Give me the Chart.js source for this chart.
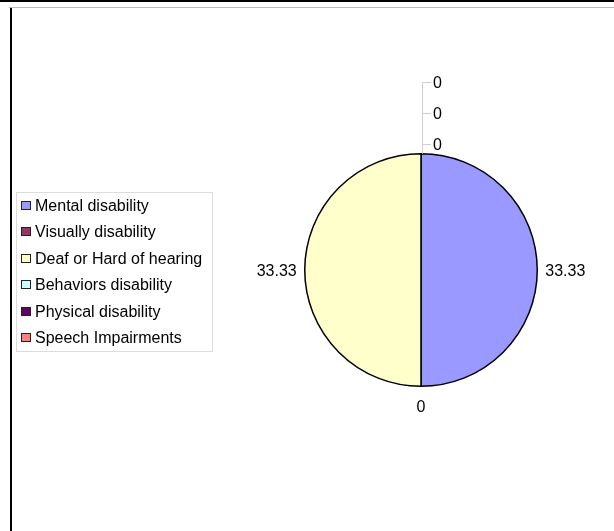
<!DOCTYPE html>
<html>
<head>
<meta charset="utf-8">
<script src="https://cdn.jsdelivr.net/npm/chart.js@4.4.1/dist/chart.umd.min.js"></script>
<style>
  html, body { margin: 0; padding: 0; background: #fff; }
  canvas { display: block; }
</style>
</head>
<body>
<canvas id="c" width="614" height="531"></canvas>
<script>
const categories = ["Mental disability", "Visually disability", "Deaf or Hard of hearing", "Behaviors disability", "Physical disability", "Speech Impairments"];
const values = [33.33, 0, 33.33, 0, 0, 0];
const valueLabels = ["33.33", "0", "33.33", "0", "0", "0"];
const colors = ["#9999FF", "#993366", "#FFFFCC", "#CCFFFF", "#660066", "#FF8080"];

const FONT = '16px "Liberation Sans", Arial, sans-serif';
const TY = 1.5;

const framePlugin = {
  id: 'frame',
  beforeDraw(chart) {
    const ctx = chart.ctx;
    ctx.save();
    ctx.fillStyle = '#fff';
    ctx.fillRect(0, 0, chart.width, chart.height);
    ctx.fillStyle = '#000';
    ctx.fillRect(0, 0, chart.width, 2);
    ctx.fillStyle = '#bdbdbd';
    ctx.fillRect(9, 7, chart.width - 9, 1);
    ctx.fillStyle = '#000';
    ctx.fillRect(10, 8, 2, chart.height - 8);
    ctx.restore();
  }
};

const labelPlugin = {
  id: 'labels',
  afterDraw(chart) {
    const ctx = chart.ctx;
    const meta = chart.getDatasetMeta(0);
    ctx.save();
    ctx.font = FONT;
    ctx.fillStyle = '#000';
    ctx.textBaseline = 'middle';
    const topStack = [];
    meta.data.forEach((arc, i) => {
      const p = arc.getProps(['x', 'y', 'startAngle', 'endAngle', 'outerRadius'], true);
      const mid = (p.startAngle + p.endAngle) / 2;
      const c = Math.cos(mid), s = Math.sin(mid);
      const r = p.outerRadius;
      const atTop = s < -0.999;
      if (atTop) { topStack.push({ i, p }); return; }
      const x = p.x + (r + 8) * c;
      const y = p.y + (r + 20) * s;
      ctx.textAlign = Math.abs(c) < 0.05 ? 'center' : (c > 0 ? 'left' : 'right');
      ctx.fillText(valueLabels[i], x, y + TY);
    });
    if (topStack.length) {
      const p = topStack[0].p;
      const top = p.y - p.outerRadius;
      const lx = p.x + 1;
      const ys = topStack.map((t, k) => Math.round(top - 10 - k * 31));
      ctx.strokeStyle = '#d0d0d0';
      ctx.lineWidth = 1;
      ctx.beginPath();
      ctx.moveTo(lx + 0.5, top);
      ctx.lineTo(lx + 0.5, ys[ys.length - 1] + 0.5);
      ys.forEach(y => {
        ctx.moveTo(lx + 0.5, y + 0.5);
        ctx.lineTo(lx + 9, y + 0.5);
      });
      ctx.stroke();
      ctx.textAlign = 'left';
      topStack.forEach((t, k) => ctx.fillText(valueLabels[t.i], lx + 11, ys[k] + TY));
    }
    // legend
    ctx.strokeStyle = '#dcdcdc';
    ctx.lineWidth = 1;
    ctx.strokeRect(16.5, 192.5, 196, 159);
    ctx.textAlign = 'left';
    categories.forEach((name, i) => {
      const cy = 205 + i * 26.4;
      ctx.fillStyle = colors[i];
      ctx.fillRect(21, Math.round(cy) - 4, 10, 9);
      ctx.strokeStyle = '#222';
      ctx.strokeRect(21.5, Math.round(cy) - 3.5, 9, 8);
      ctx.fillStyle = '#000';
      ctx.fillText(name, 35, cy + TY);
    });
    ctx.restore();
  }
};

new Chart(document.getElementById('c'), {
  type: 'pie',
  data: {
    labels: categories,
    datasets: [{
      data: values,
      backgroundColor: colors,
      borderColor: '#000',
      borderWidth: 1.5
    }]
  },
  options: {
    responsive: false,
    animation: false,
    devicePixelRatio: 1,
    layout: { padding: { left: 304, right: 76, top: 153, bottom: 144 } },
    plugins: { legend: { display: false }, tooltip: { enabled: false } }
  },
  plugins: [framePlugin, labelPlugin]
});
</script>
</body>
</html>
